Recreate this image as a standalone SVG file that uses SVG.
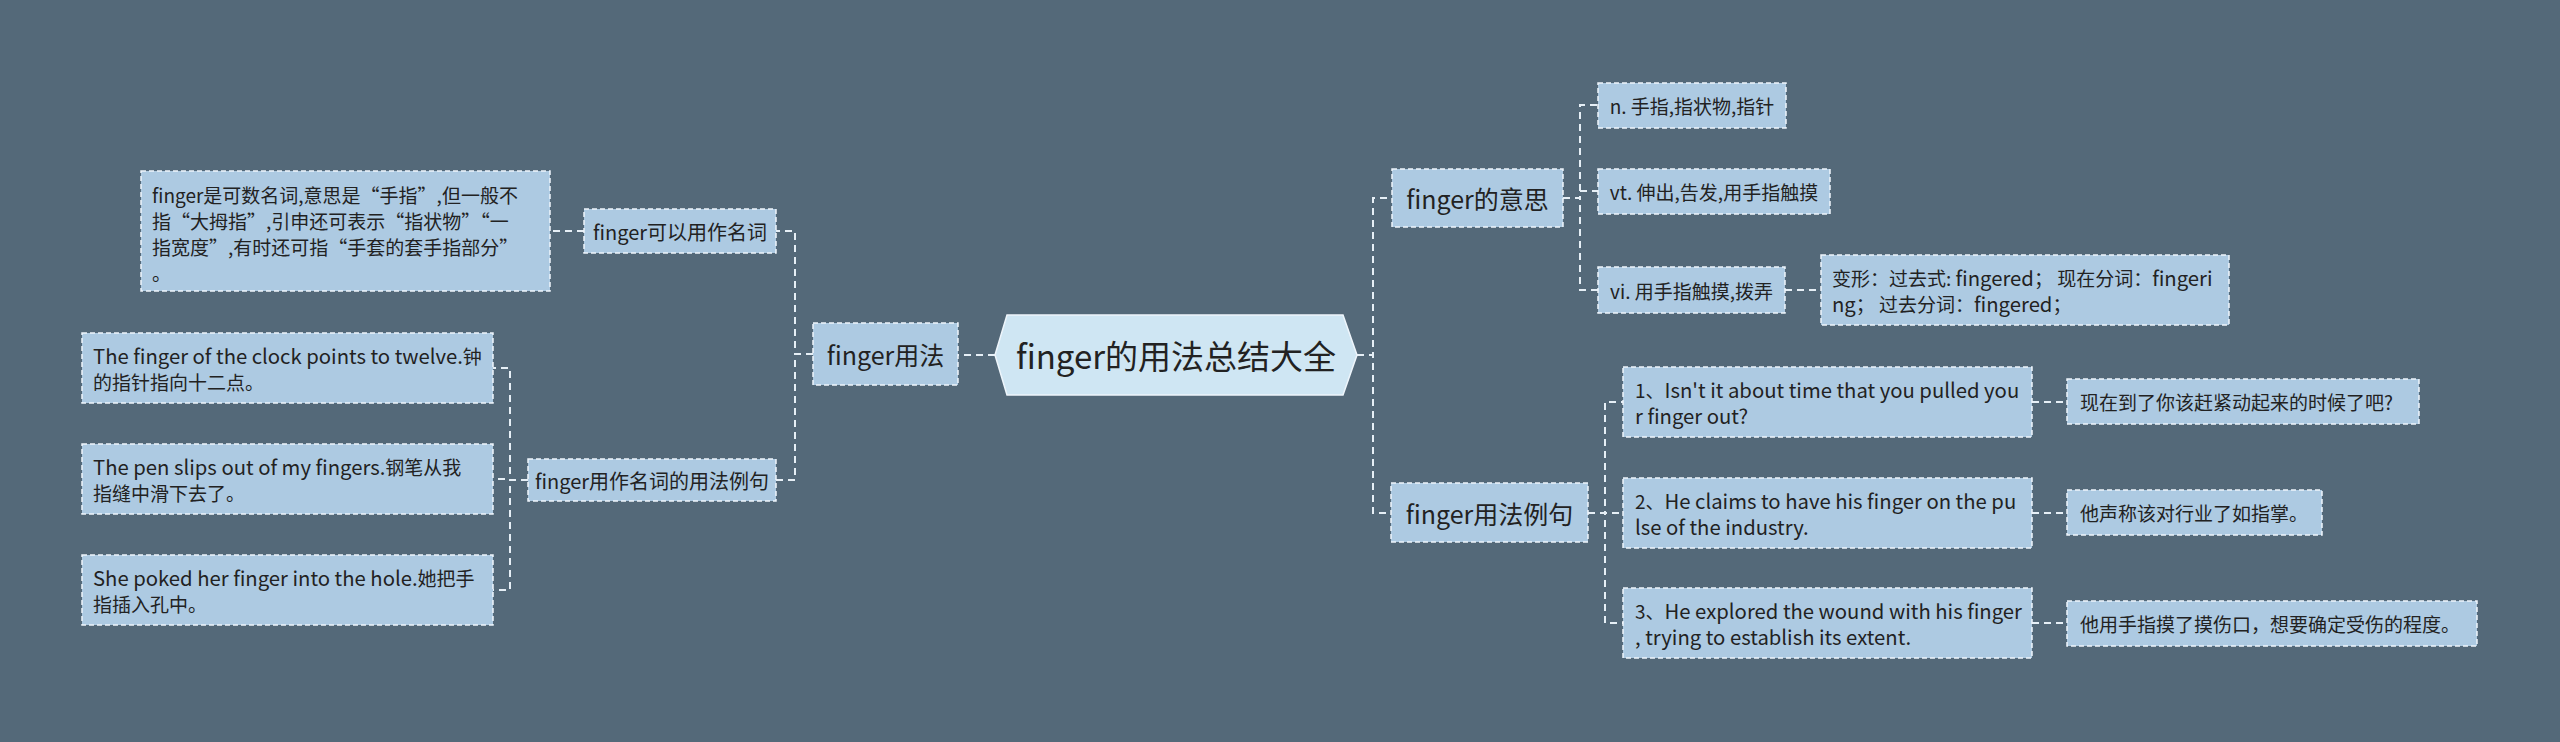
<svg xmlns="http://www.w3.org/2000/svg" width="2560" height="742" viewBox="0 0 2560 742">
<style>
text{font-family:"Noto Sans CJK SC","Noto Sans",sans-serif;fill:#222222;dominant-baseline:central}
.box{fill:#adcae2;stroke:#eef5fb;stroke-width:1.5;stroke-dasharray:5 3}
.root{fill:#cfe6f3;stroke:#eef5fb;stroke-width:1.5}
.l1{font-size:25px}
.l2{font-size:20px}
.l3{font-size:19px}
.en{font-size:20.3px}
.c{fill:none;stroke:#e6eff6;stroke-width:2;stroke-dasharray:7 5}
</style>
<rect width="2560" height="742" fill="#546979"/>
<g id="connectors">
<path class="c" d="M995 355H958"/>
<path class="c" d="M813 354H795V231H776"/>
<path class="c" d="M813 354H795V480H776"/>
<path class="c" d="M584 231H550"/>
<path class="c" d="M528 480H510V368H493"/>
<path class="c" d="M528 480H510V479H493"/>
<path class="c" d="M528 480H510V590H493"/>
<path class="c" d="M1357 355H1373V198H1392"/>
<path class="c" d="M1357 355H1373V513H1391"/>
<path class="c" d="M1563 198H1580V105H1598"/>
<path class="c" d="M1563 198H1580V191H1598"/>
<path class="c" d="M1563 198H1580V290H1598"/>
<path class="c" d="M1785 290H1821"/>
<path class="c" d="M1588 513H1605V402H1623"/>
<path class="c" d="M1588 513H1605V513H1623"/>
<path class="c" d="M1588 513H1605V623H1623"/>
<path class="c" d="M2032 402H2067"/>
<path class="c" d="M2032 513H2067"/>
<path class="c" d="M2032 623H2067"/>
</g>
<g id="root">
<polygon class="root" points="995,355 1007,315 1343,315 1357,355 1343,395 1007,395"/>
<text x="1176" y="355" font-size="33" text-anchor="middle">finger的用法总结大全</text>
</g>
<g id="n-usage">
<rect class="box" x="813" y="323" width="145" height="62"/>
<text class="l1" x="885.5" y="354" text-anchor="middle">finger用法</text>
</g>
<g id="n-noun">
<rect class="box" x="584" y="209" width="192" height="44"/>
<text class="l2" x="680" y="231" text-anchor="middle">finger可以用作名词</text>
</g>
<g id="n-noun-desc">
<rect class="box" x="141" y="171" width="409" height="120"/>
<text class="l3" x="152"><tspan x="152" y="194">finger是可数名词,意思是“手指”,但一般不</tspan><tspan x="152" y="220">指“大拇指”,引申还可表示“指状物”“一</tspan><tspan x="152" y="246">指宽度”,有时还可指“手套的套手指部分”</tspan><tspan x="152" y="272">。</tspan></text>
</g>
<g id="n-noun-ex">
<rect class="box" x="528" y="459" width="248" height="42"/>
<text class="l2" x="652" y="480" text-anchor="middle">finger用作名词的用法例句</text>
</g>
<g id="n-ex-a">
<rect class="box" x="82" y="333" width="411" height="70"/>
<text class="l3"><tspan x="93" y="355"><tspan class="en">The finger of the clock points to twelve.</tspan>钟</tspan><tspan x="93" y="381">的指针指向十二点。</tspan></text>
</g>
<g id="n-ex-b">
<rect class="box" x="82" y="444" width="411" height="70"/>
<text class="l3"><tspan x="93" y="466"><tspan class="en">The pen slips out of my fingers.</tspan>钢笔从我</tspan><tspan x="93" y="492">指缝中滑下去了。</tspan></text>
</g>
<g id="n-ex-c">
<rect class="box" x="82" y="555" width="411" height="70"/>
<text class="l3"><tspan x="93" y="577"><tspan class="en">She poked her finger into the hole.</tspan>她把手</tspan><tspan x="93" y="603">指插入孔中。</tspan></text>
</g>
<g id="n-meaning">
<rect class="box" x="1392" y="169" width="171" height="58"/>
<text class="l1" x="1477.5" y="198" text-anchor="middle">finger的意思</text>
</g>
<g id="n-m1">
<rect class="box" x="1598" y="83" width="188" height="45"/>
<text class="l3" x="1692" y="105.5" text-anchor="middle">n. 手指,指状物,指针</text>
</g>
<g id="n-m2">
<rect class="box" x="1598" y="169" width="232" height="45"/>
<text class="l3" x="1714" y="191.5" text-anchor="middle">vt. 伸出,告发,用手指触摸</text>
</g>
<g id="n-m3">
<rect class="box" x="1598" y="267" width="187" height="46"/>
<text class="l3" x="1691.5" y="290" text-anchor="middle">vi. 用手指触摸,拨弄</text>
</g>
<g id="n-m3-forms">
<rect class="box" x="1821" y="255" width="408" height="70"/>
<text class="l3"><tspan x="1832" y="277">变形：过去式: <tspan class="en">fingered</tspan>； 现在分词：<tspan class="en">fingeri</tspan></tspan><tspan x="1832" y="303"><tspan class="en">ng</tspan>； 过去分词：<tspan class="en">fingered</tspan>；</tspan></text>
</g>
<g id="n-examples">
<rect class="box" x="1391" y="483" width="197" height="59"/>
<text class="l1" x="1489.5" y="513" text-anchor="middle">finger用法例句</text>
</g>
<g id="n-s1">
<rect class="box" x="1623" y="367" width="409" height="70"/>
<text class="l3"><tspan x="1635" y="389">1、<tspan class="en">Isn't it about time that you pulled you</tspan></tspan><tspan class="en" x="1635" y="415">r finger out?</tspan></text>
</g>
<g id="n-s2">
<rect class="box" x="1623" y="478" width="409" height="70"/>
<text class="l3"><tspan x="1635" y="500">2、<tspan class="en">He claims to have his finger on the pu</tspan></tspan><tspan class="en" x="1635" y="526">lse of the industry.</tspan></text>
</g>
<g id="n-s3">
<rect class="box" x="1623" y="588" width="409" height="70"/>
<text class="l3"><tspan x="1635" y="610">3、<tspan class="en">He explored the wound with his finger</tspan></tspan><tspan class="en" x="1635" y="636">, trying to establish its extent.</tspan></text>
</g>
<g id="n-t1">
<rect class="box" x="2067" y="379" width="352" height="45"/>
<text class="l3" x="2080" y="401.5">现在到了你该赶紧动起来的时候了吧?</text>
</g>
<g id="n-t2">
<rect class="box" x="2067" y="490" width="255" height="45"/>
<text class="l3" x="2080" y="512.5">他声称该对行业了如指掌。</text>
</g>
<g id="n-t3">
<rect class="box" x="2067" y="601" width="410" height="45"/>
<text class="l3" x="2080" y="623.5">他用手指摸了摸伤口，想要确定受伤的程度。</text>
</g>
</svg>
